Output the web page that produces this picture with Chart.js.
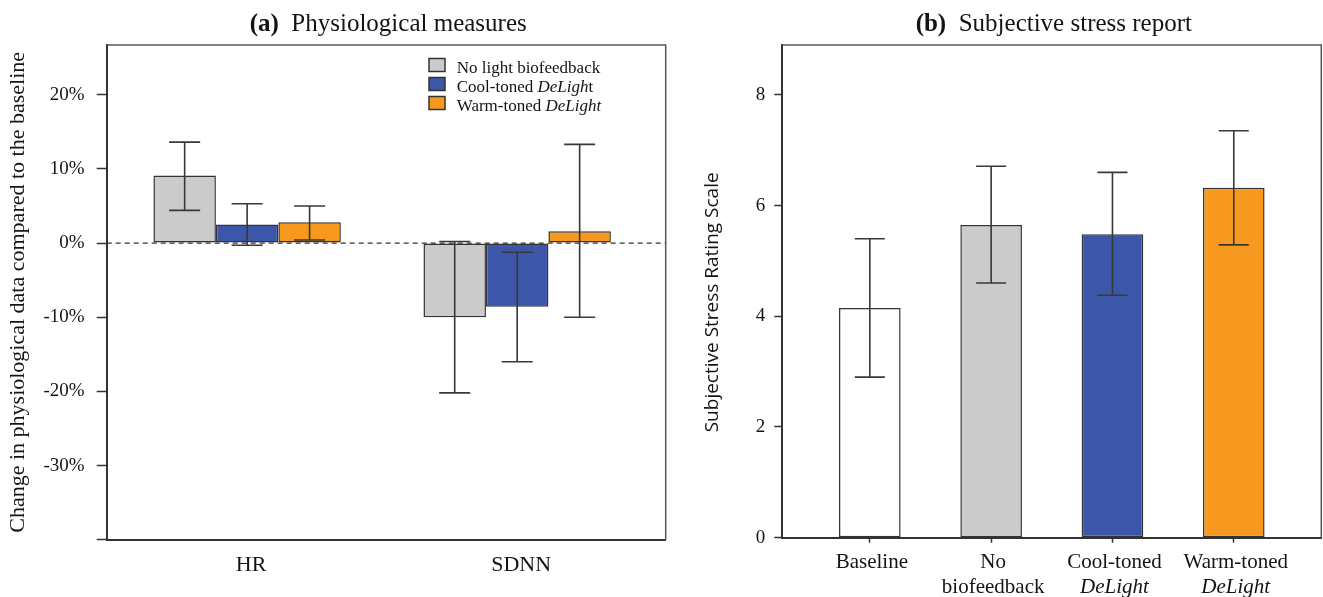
<!DOCTYPE html>
<html><head><meta charset="utf-8">
<script src="https://cdn.jsdelivr.net/npm/chart.js@4.4.1/dist/chart.umd.min.js"></script>
<style>
html,body{margin:0;padding:0;background:#fff;width:1323px;height:597px;overflow:hidden}
#a{position:absolute;left:0;top:0;width:680px;height:597px}
#b{position:absolute;left:680px;top:0;width:643px;height:597px}
</style></head><body>
<div id="a"><canvas id="ca"></canvas></div>
<div id="b"><canvas id="cb"></canvas></div>
<script>
// ---------- Panel (a) data ----------
const measures = ['HR', 'SDNN'];
const seriesNames = ['No light biofeedback', 'Cool-toned DeLight', 'Warm-toned DeLight'];
const legendMarkup = ['No light biofeedback', 'Cool-toned *DeLigh*t', 'Warm-toned *DeLight*'];
const noLightMean = [9.1, -10.0];
const noLightLow  = [4.4, -20.2];
const noLightHigh = [13.6, 0.2];
const coolMean = [2.5, -8.6];
const coolLow  = [-0.3, -16.0];
const coolHigh = [5.3, -1.25];
const warmMean = [2.8, 1.6];
const warmLow  = [0.4, -10.0];
const warmHigh = [5.0, 13.3];
const yTicksA = [-40, -30, -20, -10, 0, 10, 20];
const yLabelsA = ['', '-30%', '-20%', '-10%', '0%', '10%', '20%'];

// ---------- Panel (b) data ----------
const conditions = ['Baseline', 'No biofeedback', 'Cool-toned DeLight', 'Warm-toned DeLight'];
const conditionLines = [['Baseline'], ['No', 'biofeedback'], ['Cool-toned', '*DeLight*'], ['Warm-toned', '*DeLight*']];
const stressMean = [4.15, 5.65, 5.48, 6.32];
const stressLow  = [2.9, 4.6, 4.38, 5.29];
const stressHigh = [5.4, 6.71, 6.6, 7.35];
const yTicksB = [0, 2, 4, 6, 8];

const GRAY = '#cbcbcb', BLUE = '#3c56a9', ORANGE = '#f7991f', WHITE = '#ffffff';
const SERIF = '"Liberation Serif", "Times New Roman", serif';
const SANS = '"Open Sans", "Noto Sans", sans-serif';
const TXT = '#141414', LINE = '#333333';

function drawRich(ctx, markup, x, y, size, family, align) {
  const parts = markup.split('*').map((t, i) => ({ t, it: i % 2 === 1 })).filter(p => p.t.length);
  let total = 0;
  parts.forEach(p => { ctx.font = (p.it ? 'italic ' : '') + size + 'px ' + family; p.w = ctx.measureText(p.t).width; total += p.w; });
  let cx = align === 'center' ? x - total / 2 : x;
  ctx.textAlign = 'left';
  parts.forEach(p => { ctx.font = (p.it ? 'italic ' : '') + size + 'px ' + family; ctx.fillText(p.t, cx, y); cx += p.w; });
}

const panelPlugin = {
  id: 'panel',
  beforeDatasetsDraw(chart, args, o) {
    if (!o.zeroLine) return;
    const ctx = chart.ctx, ca = chart.chartArea, y = chart.scales.y.getPixelForValue(0);
    ctx.save(); ctx.strokeStyle = LINE; ctx.lineWidth = 1.2; ctx.setLineDash([5, 4]);
    ctx.beginPath(); ctx.moveTo(ca.left, y); ctx.lineTo(ca.right, y); ctx.stroke(); ctx.restore();
  },
  afterDatasetsDraw(chart, args, o) {
    const ctx = chart.ctx, ys = chart.scales.y;
    ctx.save(); ctx.strokeStyle = '#383838'; ctx.lineWidth = 1.6;
    chart.data.datasets.forEach((ds, di) => {
      const meta = chart.getDatasetMeta(di);
      const lo = o.errors[di][0], hi = o.errors[di][1];
      meta.data.forEach((el, i) => {
        const x = el.x, y1 = ys.getPixelForValue(lo[i]), y2 = ys.getPixelForValue(hi[i]);
        ctx.beginPath();
        ctx.moveTo(x, y1); ctx.lineTo(x, y2);
        ctx.moveTo(x - o.cap / 2, y1); ctx.lineTo(x + o.cap / 2, y1);
        ctx.moveTo(x - o.cap / 2, y2); ctx.lineTo(x + o.cap / 2, y2);
        ctx.stroke();
      });
    });
    ctx.restore();
  },
  afterDraw(chart, args, o) {
    const ctx = chart.ctx, ca = chart.chartArea;
    ctx.save();
    ctx.strokeStyle = '#555'; ctx.lineWidth = 1.5;
    ctx.beginPath(); ctx.moveTo(ca.left, ca.top); ctx.lineTo(ca.right, ca.top); ctx.lineTo(ca.right, ca.bottom); ctx.stroke();
    ctx.fillStyle = TXT; ctx.textBaseline = 'alphabetic';
    ctx.font = 'bold 25px ' + SERIF;
    const wb = ctx.measureText(o.title[0]).width;
    ctx.font = '25px ' + SERIF;
    const wr = ctx.measureText(o.title[1]).width;
    let tx = (ca.left + ca.right) / 2 - (wb + wr) / 2 + 2;
    ctx.textAlign = 'left';
    ctx.font = 'bold 25px ' + SERIF; ctx.fillText(o.title[0], tx, 31);
    ctx.font = '25px ' + SERIF; ctx.fillText(o.title[1], tx + wb, 31);
    ctx.save();
    ctx.translate(o.yTitle.x, (ca.top + ca.bottom) / 2 + o.yTitle.dy);
    ctx.rotate(-Math.PI / 2);
    ctx.font = o.yTitle.font; ctx.textAlign = 'center'; ctx.textBaseline = 'middle';
    ctx.fillText(o.yTitle.text, 0, 0);
    ctx.restore();
    const xs = chart.scales.x;
    ctx.textBaseline = 'middle';
    o.xLabels.forEach((lines, i) => {
      const x = xs.getPixelForValue(i) + o.xShift;
      lines.forEach((ln, j) => drawRich(ctx, ln, x, ca.bottom + o.xLabelDy + j * 25, o.xFontSize, SERIF, 'center'));
    });
    if (o.legend) {
      const lx = ca.left + 322.3;
      chart.data.datasets.forEach((ds, i) => {
        const cy = ca.top + 20 + i * 19;
        ctx.fillStyle = ds.backgroundColor; ctx.strokeStyle = LINE; ctx.lineWidth = 1.5;
        ctx.fillRect(lx, cy - 6.5, 16, 13); ctx.strokeRect(lx, cy - 6.5, 16, 13);
        ctx.fillStyle = TXT; ctx.textBaseline = 'alphabetic';
        drawRich(ctx, o.legend[i], lx + 27.7, cy + 8.3, 17, SERIF, 'left');
      });
    }
    ctx.restore();
  }
};

function padRange(l, r) {
  return (s) => { s._startValue -= l; s._valueRange += l + r; };
}

Chart.defaults.font.family = SERIF;
Chart.defaults.color = TXT;

new Chart(document.getElementById('ca'), {
  type: 'bar',
  data: {
    labels: measures,
    datasets: [
      { label: seriesNames[0], data: noLightMean, backgroundColor: GRAY },
      { label: seriesNames[1], data: coolMean, backgroundColor: BLUE },
      { label: seriesNames[2], data: warmMean, backgroundColor: ORANGE }
    ]
  },
  plugins: [panelPlugin],
  options: {
    responsive: true, maintainAspectRatio: false, animation: false,
    devicePixelRatio: 1,
    layout: { padding: { top: 45, right: 14.3, left: 0, bottom: 0 } },
    datasets: { bar: { borderColor: LINE, borderWidth: 1.5, borderSkipped: false, categoryPercentage: 0.694, barPercentage: 1 } },
    plugins: {
      legend: { display: false }, title: { display: false }, tooltip: { enabled: false },
      panel: {
        zeroLine: true,
        errors: [[noLightLow, noLightHigh], [coolLow, coolHigh], [warmLow, warmHigh]],
        cap: 31,
        title: ['(a)', '  Physiological measures'],
        yTitle: { text: 'Change in physiological data compared to the baseline', font: '22px ' + SERIF, x: 18, dy: 0 },
        xLabels: measures.map(m => [m]), xShift: 4, xLabelDy: 25.5, xFontSize: 22,
        legend: legendMarkup
      }
    },
    scales: {
      x: {
        afterBuildTicks: padRange(0.02, 0.05),
        afterFit: (s) => { s.height = 57.3; },
        ticks: { display: false },
        grid: { display: true, drawOnChartArea: false, drawTicks: false },
        border: { display: true, color: LINE, width: 2 }
      },
      y: {
        min: -40, max: 26.7,
        afterBuildTicks: (s) => { s.ticks = yTicksA.map(v => ({ value: v })); },
        afterFit: (s) => { s.width = 106.7; },
        ticks: { padding: 12, font: { size: 19, family: SERIF }, color: TXT,
                 callback: (v) => yLabelsA[yTicksA.indexOf(v)] },
        grid: { display: true, drawOnChartArea: false, drawTicks: true, tickLength: 10, tickColor: LINE, tickWidth: 1.5 },
        border: { display: true, color: LINE, width: 2 }
      }
    }
  }
});

new Chart(document.getElementById('cb'), {
  type: 'bar',
  data: {
    labels: conditions,
    datasets: [
      { label: 'Subjective stress', data: stressMean, backgroundColor: [WHITE, GRAY, BLUE, ORANGE] }
    ]
  },
  plugins: [panelPlugin],
  options: {
    responsive: true, maintainAspectRatio: false, animation: false,
    devicePixelRatio: 1,
    layout: { padding: { top: 45, right: 1.7, left: 0, bottom: 0 } },
    datasets: { bar: { borderColor: LINE, borderWidth: 1.5, borderSkipped: false, categoryPercentage: 0.508, barPercentage: 1 } },
    plugins: {
      legend: { display: false }, title: { display: false }, tooltip: { enabled: false },
      panel: {
        zeroLine: false,
        errors: [[stressLow, stressHigh]],
        cap: 30,
        title: ['(b)', '  Subjective stress report'],
        yTitle: { text: 'Subjective Stress Rating Scale', font: '19px ' + SANS, x: 33, dy: 11 },
        xLabels: conditionLines, xShift: 2, xLabelDy: 24.3, xFontSize: 21,
        legend: null
      }
    },
    scales: {
      x: {
        afterBuildTicks: padRange(0.2215, 0.2215),
        afterFit: (s) => { s.height = 59.3; },
        ticks: { display: false },
        grid: { display: true, offset: false, drawOnChartArea: false, drawTicks: true, tickLength: 5, tickColor: LINE, tickWidth: 1.5 },
        border: { display: true, color: LINE, width: 2 }
      },
      y: {
        min: 0, max: 8.9,
        afterBuildTicks: (s) => { s.ticks = yTicksB.map(v => ({ value: v })); },
        afterFit: (s) => { s.width = 102.3; },
        ticks: { padding: 9, font: { size: 19, family: SERIF }, color: TXT, callback: (v) => String(v) },
        grid: { display: true, drawOnChartArea: false, drawTicks: true, tickLength: 8, tickColor: LINE, tickWidth: 1.5 },
        border: { display: true, color: LINE, width: 2 }
      }
    }
  }
});
</script>
</body></html>
